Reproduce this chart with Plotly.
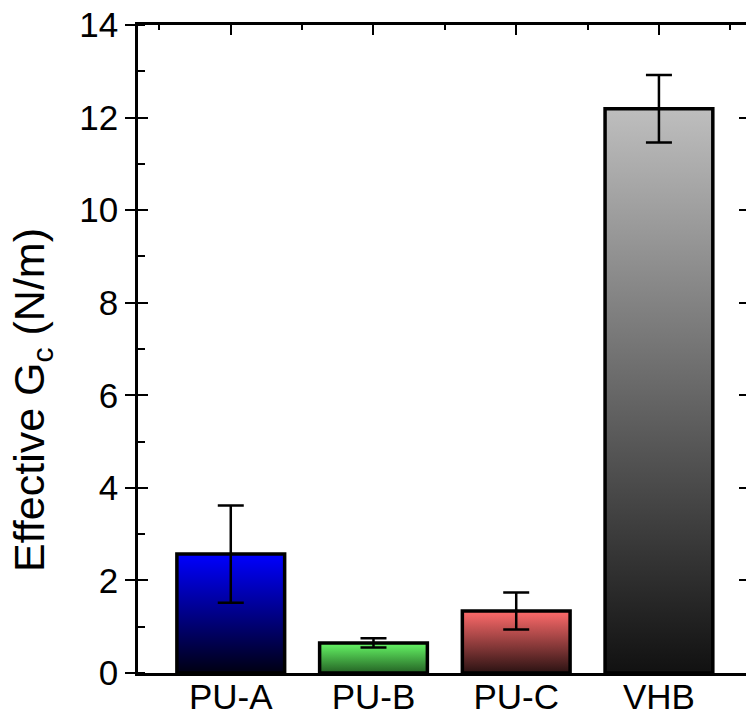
import plotly.graph_objects as go

categories = ["PU-A", "PU-B", "PU-C", "VHB"]
values = [2.57, 0.65, 1.34, 12.19]
errors = [1.05, 0.10, 0.40, 0.73]
top_colors = ["#0000FF", "#66F866", "#FF6B6B", "#BEBEBE"]
bottom_colors = ["#000012", "#246224", "#2A1212", "#111111"]

BAR_W = 0.755
FONT = "Liberation Sans, Arial, sans-serif"

fig = go.Figure()

for i, (cat, v) in enumerate(zip(categories, values)):
    xl, xr = i - BAR_W / 2, i + BAR_W / 2
    fig.add_trace(go.Scatter(
        x=[xl, xl, xr, xr, xl], y=[0, v, v, 0, 0],
        mode="lines", fill="toself",
        fillgradient=dict(type="vertical",
                          colorscale=[[0, bottom_colors[i]], [1, top_colors[i]]]),
        line=dict(color="black", width=3.5),
        hoverinfo="skip", showlegend=False,
    ))

fig.add_trace(go.Scatter(
    x=list(range(len(categories))), y=values, mode="markers",
    marker=dict(size=1, color="rgba(0,0,0,0)"),
    error_y=dict(type="data", array=errors, visible=True,
                 color="black", thickness=2.5, width=13),
    showlegend=False, hoverinfo="skip",
))

# helper invisible traces for overlay axes
fig.add_trace(go.Scatter(x=[0], y=[0], xaxis="x2", yaxis="y", mode="markers",
                         marker=dict(opacity=0), showlegend=False, hoverinfo="skip"))
fig.add_trace(go.Scatter(x=[0], y=[0], xaxis="x", yaxis="y2", mode="markers",
                         marker=dict(opacity=0), showlegend=False, hoverinfo="skip"))
fig.add_trace(go.Scatter(x=[0], y=[0], xaxis="x", yaxis="y3", mode="markers",
                         marker=dict(opacity=0), showlegend=False, hoverinfo="skip"))

xr_ = [-0.65, 3.61]
yr_ = [0, 14]

fig.update_layout(
    width=746, height=715,
    margin=dict(l=138, r=0, t=25, b=42),
    paper_bgcolor="white", plot_bgcolor="white",
    font=dict(family=FONT, color="black"),
    xaxis=dict(range=xr_, tickmode="array", tickvals=list(range(len(categories))),
               ticktext=categories, ticks="", showline=True, linecolor="black",
               linewidth=2.5, showgrid=False, zeroline=False, automargin=False,
               ticklabelstandoff=-9,
               tickfont=dict(size=35, family=FONT, color="black")),
    xaxis2=dict(range=xr_, overlaying="x", side="top", anchor="y",
                tickmode="array", tickvals=list(range(len(categories))),
                ticks="inside", ticklen=10, tickwidth=2, tickcolor="black",
                showticklabels=False, showline=True, linecolor="black",
                linewidth=2.5, showgrid=False, zeroline=False, automargin=False,
                minor=dict(tickmode="array", tickvals=[-0.5, 0.5, 1.5, 2.5, 3.5],
                           ticks="inside", ticklen=5, tickwidth=2, tickcolor="black")),
    yaxis=dict(range=yr_, dtick=2, tick0=0, ticks="outside", ticklen=10,
               tickwidth=2, tickcolor="black", showline=True, linecolor="black",
               linewidth=2.5, showgrid=False, zeroline=False, automargin=False,
               tickfont=dict(size=35, family=FONT, color="black"),
               minor=dict(dtick=1, ticks="inside", ticklen=7, tickwidth=2,
                          tickcolor="black")),
    yaxis2=dict(range=yr_, overlaying="y", side="left", anchor="x", dtick=2, tick0=0,
                ticks="inside", ticklen=10, tickwidth=2, tickcolor="black",
                showticklabels=False, showline=False, showgrid=False, zeroline=False,
                automargin=False),
    yaxis3=dict(range=yr_, overlaying="y", side="right", anchor="x", dtick=2, tick0=0,
                ticks="inside", ticklen=7, tickwidth=2, tickcolor="black",
                showticklabels=False, showline=False, showgrid=False, zeroline=False,
                automargin=False),
    annotations=[dict(
        text="Effective G<sub>c</sub> (N/m)", textangle=-90,
        xref="paper", yref="paper", x=0, y=(673 - 400) / 648,
        xanchor="center", yanchor="middle", xshift=-106, showarrow=False,
        font=dict(size=43, family=FONT, color="black"),
    )],
)

fig.write_html("out.html")
